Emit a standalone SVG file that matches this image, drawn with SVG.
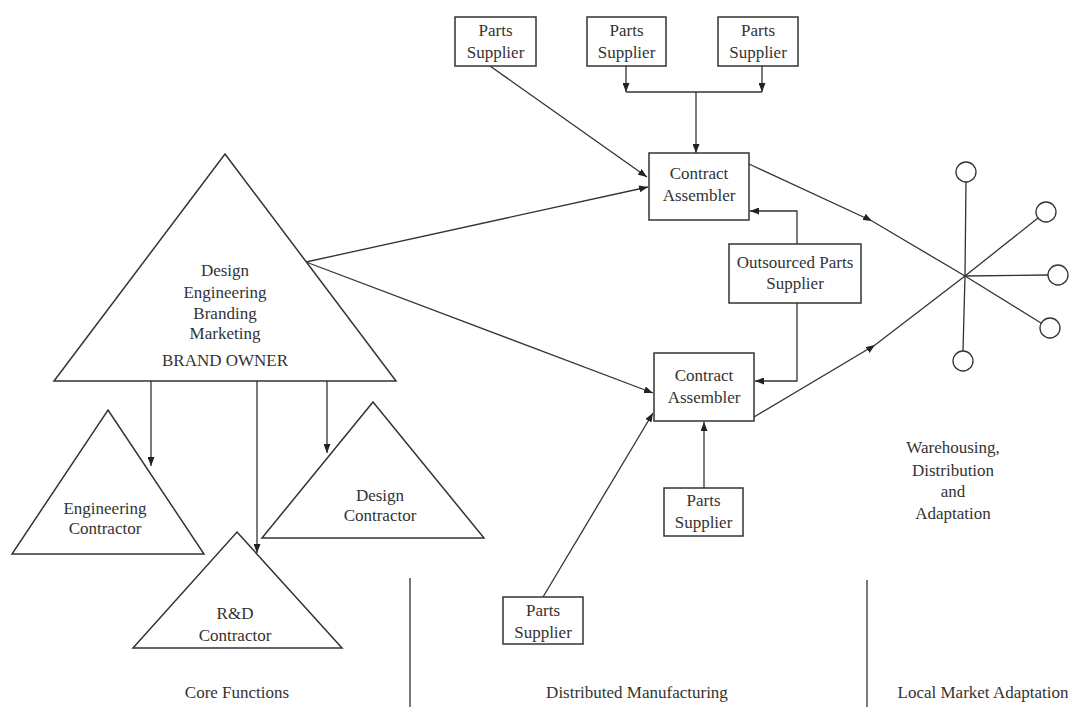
<svg xmlns="http://www.w3.org/2000/svg" width="1078" height="707" viewBox="0 0 1078 707">
<defs>
<marker id="arr" markerWidth="9" markerHeight="7" refX="9" refY="3.5" orient="auto" markerUnits="userSpaceOnUse">
<path d="M0,0 L9,3.5 L0,7 z" fill="#222"/>
</marker>
<style>
.ln{fill:none;stroke:#333;stroke-width:1.3}
.sh{fill:#fff;stroke:#333;stroke-width:1.5}
.t{font-family:"Liberation Serif","Times New Roman",serif;font-size:17px;fill:#333;text-anchor:middle}
.ci{fill:#fff;stroke:#333;stroke-width:1.3}
</style>
</defs>
<rect width="1078" height="707" fill="#fff"/>

<g id="connectors">
<line class="ln" x1="490" y1="66" x2="647" y2="177" marker-end="url(#arr)"/>
<line class="ln" x1="626" y1="66" x2="626" y2="92" marker-end="url(#arr)"/>
<line class="ln" x1="762" y1="66" x2="762" y2="92" marker-end="url(#arr)"/>
<line class="ln" x1="626" y1="92" x2="762" y2="92"/>
<line class="ln" x1="696" y1="92" x2="696" y2="153" marker-end="url(#arr)"/>
<line class="ln" x1="306" y1="262" x2="648" y2="187" marker-end="url(#arr)"/>
<line class="ln" x1="306" y1="262" x2="653" y2="393" marker-end="url(#arr)"/>
<polyline class="ln" points="797,244 797,211 750,211" marker-end="url(#arr)"/>
<polyline class="ln" points="797,303 797,381 755,381" marker-end="url(#arr)"/>
<polyline class="ln" points="749,164 872,221 965,276" marker-mid="url(#arr)"/>
<polyline class="ln" points="754,417 875,345 965,276" marker-mid="url(#arr)"/>
<line class="ln" x1="704" y1="488" x2="704" y2="422" marker-end="url(#arr)"/>
<line class="ln" x1="543" y1="597" x2="653" y2="413" marker-end="url(#arr)"/>
<line class="ln" x1="151" y1="381" x2="151" y2="466" marker-end="url(#arr)"/>
<line class="ln" x1="327" y1="381" x2="327" y2="453" marker-end="url(#arr)"/>
<line class="ln" x1="257" y1="381" x2="257" y2="553" marker-end="url(#arr)"/>
<line class="ln" x1="965" y1="276" x2="966" y2="182"/>
<line class="ln" x1="965" y1="276" x2="1038" y2="218"/>
<line class="ln" x1="965" y1="276" x2="1048" y2="275"/>
<line class="ln" x1="965" y1="276" x2="1041" y2="323"/>
<line class="ln" x1="965" y1="276" x2="963" y2="351"/>
<line class="ln" x1="410" y1="578" x2="410" y2="707"/>
<line class="ln" x1="867" y1="580" x2="867" y2="707"/>
</g>

<g id="brand-owner">
<polygon class="sh" points="225,154 396,381 54,381"/>
<text class="t" x="225" y="276">Design</text>
<text class="t" x="225" y="298">Engineering</text>
<text class="t" x="225" y="319">Branding</text>
<text class="t" x="225" y="339">Marketing</text>
<text class="t" x="225" y="366">BRAND OWNER</text>
</g>

<g id="engineering-contractor">
<polygon class="sh" points="108,410 204,554 12,554"/>
<text class="t" x="105" y="514">Engineering</text>
<text class="t" x="105" y="534">Contractor</text>
</g>

<g id="design-contractor">
<polygon class="sh" points="373,402 484,538 262,538"/>
<text class="t" x="380" y="501">Design</text>
<text class="t" x="380" y="521">Contractor</text>
</g>

<g id="rd-contractor">
<polygon class="sh" points="237,532 342,648 133,648"/>
<text class="t" x="235" y="619">R&amp;D</text>
<text class="t" x="235" y="641">Contractor</text>
</g>

<g id="parts-supplier-1">
<rect class="sh" x="455" y="17" width="81" height="49"/>
<text class="t" x="495.5" y="36">Parts</text>
<text class="t" x="495.5" y="58">Supplier</text>
</g>
<g id="parts-supplier-2">
<rect class="sh" x="587" y="17" width="79" height="49"/>
<text class="t" x="626.5" y="36">Parts</text>
<text class="t" x="626.5" y="58">Supplier</text>
</g>
<g id="parts-supplier-3">
<rect class="sh" x="718" y="17" width="80" height="49"/>
<text class="t" x="758" y="36">Parts</text>
<text class="t" x="758" y="58">Supplier</text>
</g>

<g id="contract-assembler-1">
<rect class="sh" x="649" y="153" width="100" height="67"/>
<text class="t" x="699" y="179">Contract</text>
<text class="t" x="699" y="201">Assembler</text>
</g>

<g id="outsourced-parts-supplier">
<rect class="sh" x="729" y="244" width="132" height="59"/>
<text class="t" x="795" y="268">Outsourced Parts</text>
<text class="t" x="795" y="289">Supplier</text>
</g>

<g id="contract-assembler-2">
<rect class="sh" x="654" y="353" width="100" height="68"/>
<text class="t" x="704" y="381">Contract</text>
<text class="t" x="704" y="403">Assembler</text>
</g>

<g id="parts-supplier-4">
<rect class="sh" x="664" y="488" width="79" height="48"/>
<text class="t" x="703.5" y="506">Parts</text>
<text class="t" x="703.5" y="528">Supplier</text>
</g>

<g id="parts-supplier-5">
<rect class="sh" x="503" y="597" width="80" height="47"/>
<text class="t" x="543" y="616">Parts</text>
<text class="t" x="543" y="638">Supplier</text>
</g>

<g id="distribution-hub">
<circle class="ci" cx="966" cy="172" r="10"/>
<circle class="ci" cx="1046" cy="212" r="10"/>
<circle class="ci" cx="1058" cy="275" r="10"/>
<circle class="ci" cx="1050" cy="328" r="10"/>
<circle class="ci" cx="963" cy="361" r="10"/>
</g>

<g id="warehousing-label">
<text class="t" x="953" y="453">Warehousing,</text>
<text class="t" x="953" y="476">Distribution</text>
<text class="t" x="953" y="497">and</text>
<text class="t" x="953" y="519">Adaptation</text>
</g>

<g id="section-labels">
<text class="t" x="237" y="698">Core Functions</text>
<text class="t" x="637" y="698">Distributed Manufacturing</text>
<text class="t" x="983" y="698">Local Market Adaptation</text>
</g>
</svg>
